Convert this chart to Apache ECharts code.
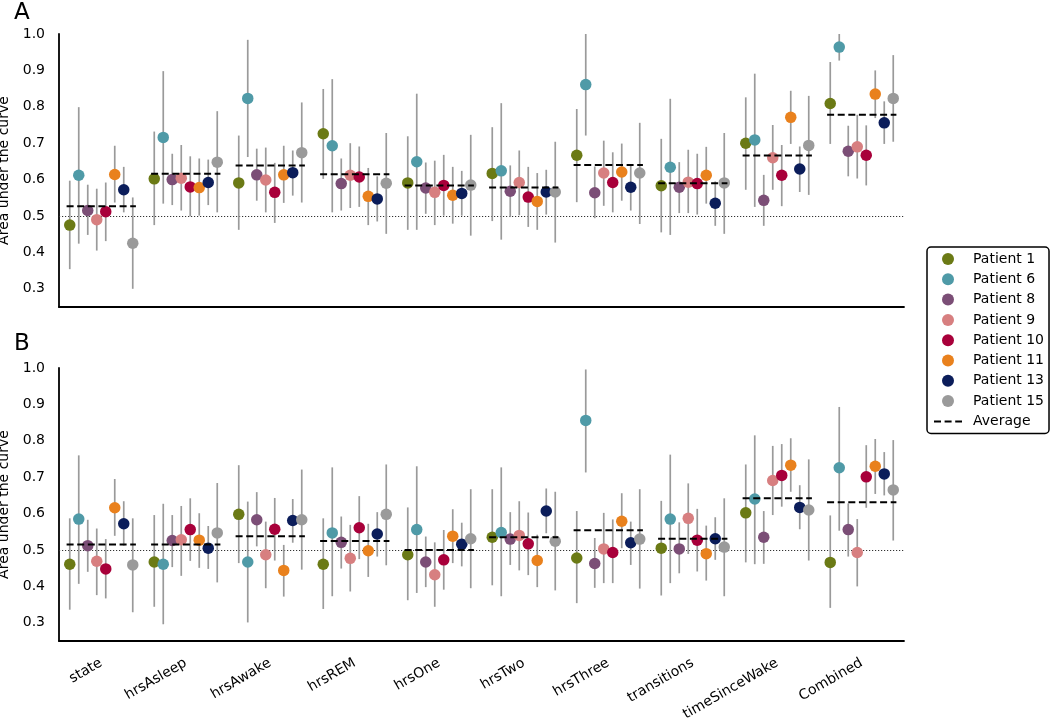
<!DOCTYPE html>
<html>
<head>
<meta charset="utf-8">
<title>Area under the curve per feature</title>
<script src="https://cdn.jsdelivr.net/npm/echarts@6/dist/echarts.min.js"></script>
<style>
  html, body { margin: 0; padding: 0; background: #fff; }
  #chart { width: 1050px; height: 718px; }
</style>
</head>
<body>
<div id="chart"></div>
<script>
var features = ['state', 'hrsAsleep', 'hrsAwake', 'hrsREM', 'hrsOne', 'hrsTwo',
  'hrsThree', 'transitions', 'timeSinceWake', 'Combined'];
var patients = ['Patient 1', 'Patient 6', 'Patient 8', 'Patient 9',
  'Patient 10', 'Patient 11', 'Patient 13', 'Patient 15'];
var patientColors = ['#6b7a15', '#4f9aa7', '#7b4e76', '#d77f80',
  '#a8003a', '#e9811d', '#0b1d5a', '#9a9a9a'];
var yTickLabels = ['0.3', '0.4', '0.5', '0.6', '0.7', '0.8', '0.9', '1.0'];
var chanceLevel = 0.5;

// panel A: one row per patient, one column per feature
var aucA = [
  [0.475, 0.602, 0.591, 0.726, 0.591, 0.617, 0.667, 0.583, 0.700, 0.809],
  [0.612, 0.716, 0.823, 0.693, 0.649, 0.624, 0.861, 0.634, 0.709, 0.964],
  [0.515, 0.600, 0.613, 0.589, 0.577, 0.568, 0.564, 0.579, 0.543, 0.678],
  [0.490, 0.604, 0.599, 0.612, 0.565, 0.592, 0.618, 0.593, 0.660, 0.690],
  [0.512, 0.580, 0.565, 0.607, 0.584, 0.552, 0.592, 0.589, 0.612, 0.667],
  [0.614, 0.578, 0.613, 0.554, 0.557, 0.540, 0.621, 0.612, 0.771, 0.835],
  [0.572, 0.592, 0.619, 0.547, 0.562, 0.566, 0.579, 0.535, 0.629, 0.756],
  [0.425, 0.648, 0.674, 0.590, 0.585, 0.566, 0.618, 0.591, 0.694, 0.823]
];
var lowA = [
  [0.354, 0.475, 0.462, 0.602, 0.462, 0.486, 0.538, 0.455, 0.572, 0.698],
  [0.424, 0.534, 0.662, 0.510, 0.462, 0.435, 0.721, 0.448, 0.525, 0.927],
  [0.448, 0.530, 0.542, 0.515, 0.506, 0.497, 0.494, 0.508, 0.473, 0.609],
  [0.405, 0.515, 0.510, 0.522, 0.475, 0.502, 0.528, 0.508, 0.572, 0.603],
  [0.431, 0.499, 0.481, 0.525, 0.501, 0.470, 0.510, 0.504, 0.527, 0.584],
  [0.537, 0.501, 0.536, 0.475, 0.479, 0.462, 0.542, 0.534, 0.698, 0.769],
  [0.510, 0.530, 0.556, 0.485, 0.501, 0.504, 0.515, 0.473, 0.566, 0.698],
  [0.300, 0.510, 0.537, 0.451, 0.446, 0.427, 0.478, 0.451, 0.558, 0.704]
];
var highA = [
  [0.597, 0.732, 0.721, 0.849, 0.719, 0.744, 0.794, 0.712, 0.826, 0.923],
  [0.799, 0.898, 0.984, 0.876, 0.836, 0.810, 1.000, 0.822, 0.891, 1.000],
  [0.586, 0.671, 0.685, 0.658, 0.647, 0.639, 0.636, 0.648, 0.613, 0.748],
  [0.575, 0.695, 0.688, 0.700, 0.652, 0.680, 0.707, 0.682, 0.750, 0.778],
  [0.592, 0.664, 0.646, 0.691, 0.668, 0.635, 0.675, 0.671, 0.695, 0.749],
  [0.693, 0.658, 0.693, 0.632, 0.635, 0.618, 0.699, 0.690, 0.844, 0.900],
  [0.635, 0.655, 0.680, 0.609, 0.624, 0.627, 0.639, 0.595, 0.691, 0.815],
  [0.551, 0.788, 0.812, 0.728, 0.723, 0.704, 0.756, 0.728, 0.830, 0.942]
];
var avgA = [0.527, 0.616, 0.639, 0.615, 0.584, 0.578, 0.640, 0.590, 0.666, 0.778];

// panel B
var aucB = [
  [0.461, 0.467, 0.598, 0.461, 0.487, 0.535, 0.478, 0.505, 0.602, 0.466],
  [0.585, 0.461, 0.467, 0.547, 0.556, 0.548, 0.856, 0.585, 0.640, 0.726],
  [0.512, 0.526, 0.583, 0.521, 0.467, 0.530, 0.463, 0.503, 0.535, 0.556],
  [0.469, 0.528, 0.487, 0.477, 0.432, 0.540, 0.503, 0.587, 0.691, 0.493],
  [0.448, 0.556, 0.557, 0.561, 0.473, 0.517, 0.493, 0.527, 0.705, 0.701],
  [0.616, 0.527, 0.444, 0.498, 0.538, 0.471, 0.579, 0.490, 0.733, 0.730],
  [0.572, 0.505, 0.581, 0.544, 0.516, 0.607, 0.520, 0.531, 0.617, 0.709],
  [0.459, 0.547, 0.583, 0.598, 0.531, 0.524, 0.530, 0.508, 0.610, 0.665]
];
var lowB = [
  [0.336, 0.344, 0.464, 0.338, 0.362, 0.403, 0.354, 0.375, 0.466, 0.341],
  [0.407, 0.296, 0.301, 0.373, 0.382, 0.373, 0.713, 0.409, 0.461, 0.553],
  [0.440, 0.453, 0.510, 0.449, 0.398, 0.459, 0.396, 0.436, 0.462, 0.482],
  [0.376, 0.429, 0.395, 0.386, 0.344, 0.444, 0.409, 0.489, 0.596, 0.400],
  [0.367, 0.470, 0.471, 0.475, 0.391, 0.431, 0.409, 0.441, 0.619, 0.616],
  [0.539, 0.451, 0.372, 0.426, 0.464, 0.398, 0.505, 0.416, 0.660, 0.654],
  [0.512, 0.448, 0.520, 0.482, 0.455, 0.546, 0.459, 0.473, 0.557, 0.650],
  [0.329, 0.411, 0.446, 0.458, 0.395, 0.389, 0.394, 0.373, 0.471, 0.526]
];
var highB = [
  [0.587, 0.596, 0.733, 0.587, 0.617, 0.667, 0.607, 0.635, 0.735, 0.595],
  [0.760, 0.627, 0.633, 0.727, 0.730, 0.727, 0.996, 0.762, 0.815, 0.893],
  [0.583, 0.596, 0.659, 0.592, 0.537, 0.604, 0.533, 0.576, 0.607, 0.628],
  [0.559, 0.621, 0.578, 0.569, 0.521, 0.634, 0.602, 0.683, 0.786, 0.585],
  [0.530, 0.642, 0.643, 0.648, 0.555, 0.603, 0.584, 0.613, 0.791, 0.788],
  [0.695, 0.601, 0.514, 0.572, 0.612, 0.542, 0.656, 0.567, 0.807, 0.805],
  [0.634, 0.566, 0.640, 0.604, 0.575, 0.669, 0.578, 0.590, 0.678, 0.769],
  [0.587, 0.684, 0.721, 0.735, 0.667, 0.660, 0.667, 0.642, 0.749, 0.802]
];
var avgB = [0.515, 0.515, 0.538, 0.525, 0.500, 0.535, 0.554, 0.531, 0.642, 0.631];

(function () {
  var FONT = 'DejaVu Sans';
  var SPREAD = 0.1065;   // horizontal offset between patients inside a feature group
  var AVG_HALF = 0.41;   // half width of the dashed average segment

  function xPos(i, j) { return i + (j - (patients.length - 1) / 2) * SPREAD; }

  function yAxis(grid) {
    return {
      type: 'value', gridIndex: grid, min: 0.25, max: 1.0, interval: 0.05,
      name: 'Area under the curve', nameLocation: 'middle', nameGap: 43,
      nameTextStyle: { fontFamily: FONT, fontSize: 14, color: '#000' },
      axisLine: { show: true, onZero: false, lineStyle: { color: '#000', width: 1.8 } },
      axisTick: { show: false },
      splitLine: { show: false },
      axisLabel: {
        margin: 14, fontFamily: FONT, fontSize: 14, color: '#000',
        formatter: function (v) {
          var s = v.toFixed(1);
          if (Math.abs(v - parseFloat(s)) > 1e-6) return '';
          return yTickLabels.indexOf(s) >= 0 ? s : '';
        }
      }
    };
  }

  function xAxis(grid, withLabels) {
    return {
      type: 'value', gridIndex: grid, min: -0.5, max: features.length - 0.5, interval: 0.5,
      axisLine: { show: true, onZero: false, lineStyle: { color: '#000', width: 1.8 } },
      axisTick: { show: false },
      splitLine: { show: false },
      axisLabel: {
        show: withLabels, rotate: 30, margin: 21, fontFamily: FONT, fontSize: 14, color: '#000',
        formatter: function (v) {
          var k = Math.round(v);
          if (Math.abs(v - k) > 1e-6) return '';
          return features[k] || '';
        }
      }
    };
  }

  function panelSeries(grid, auc, low, high, avg) {
    var out = [];
    var bars = [];
    for (var j = 0; j < patients.length; j++) {
      for (var i = 0; i < features.length; i++) {
        bars.push([xPos(i, j), low[j][i], high[j][i]]);
      }
    }
    out.push({
      type: 'custom', name: 'errors', xAxisIndex: grid, yAxisIndex: grid, z: 1, silent: true,
      data: bars,
      encode: { x: 0, y: [1, 2] },
      renderItem: function (params, api) {
        var a = api.coord([api.value(0), api.value(1)]);
        var b = api.coord([api.value(0), api.value(2)]);
        return {
          type: 'line',
          shape: { x1: a[0], y1: a[1], x2: b[0], y2: b[1] },
          style: { stroke: '#9a9a9a', lineWidth: 1.7 }
        };
      },
      markLine: {
        silent: true, symbol: 'none', z: 1,
        label: { show: false },
        lineStyle: { color: '#333', width: 1, type: [1.2, 1.8] },
        data: [{ yAxis: chanceLevel }]
      }
    });
    patients.forEach(function (name, j) {
      out.push({
        type: 'scatter', name: name, xAxisIndex: grid, yAxisIndex: grid, z: 3,
        symbol: 'circle', symbolSize: 11.5,
        itemStyle: { color: patientColors[j], opacity: 1 },
        data: auc[j].map(function (v, i) { return [xPos(i, j), v]; })
      });
    });
    avg.forEach(function (v, i) {
      out.push({
        type: 'line', name: 'Average', xAxisIndex: grid, yAxisIndex: grid, z: 4,
        symbol: 'none', silent: true,
        itemStyle: { color: '#000' },
        lineStyle: { color: '#000', width: 2, type: [7, 3.6] },
        data: [[i - AVG_HALF, v], [i + AVG_HALF, v]]
      });
    });
    return out;
  }

  var chart = echarts.init(document.getElementById('chart'), null, { renderer: 'canvas' });
  var legendData = patients.map(function (p) { return { name: p, icon: 'circle' }; });
  legendData.push({ name: 'Average', itemStyle: { opacity: 0 } });

  var titleStyle = { fontFamily: FONT, fontSize: 23, fontWeight: 'normal', color: '#000' };
  chart.setOption({
    animation: false,
    backgroundColor: '#fff',
    textStyle: { fontFamily: FONT },
    title: [
      { text: 'A', left: 14, top: 2, padding: 0, textStyle: titleStyle },
      { text: 'B', left: 14, top: 333, padding: 0, textStyle: titleStyle }
    ],
    grid: [
      { left: 59, top: 34, width: 845, height: 273, outerBoundsMode: 'none' },
      { left: 59, top: 368, width: 845, height: 273, outerBoundsMode: 'none' }
    ],
    xAxis: [xAxis(0, false), xAxis(1, true)],
    yAxis: [yAxis(0), yAxis(1)],
    legend: {
      orient: 'vertical', left: 927, top: 247,
      padding: [5, 5, 5, 6],
      itemWidth: 28, itemHeight: 12, itemGap: 6.3,
      borderColor: '#000', borderWidth: 1.5, borderRadius: 4,
      backgroundColor: '#fff',
      textStyle: { fontFamily: FONT, fontSize: 14, color: '#000', lineHeight: 14, padding: [0, 0, 0, 6] },
      data: legendData
    },
    series: panelSeries(0, aucA, lowA, highA, avgA).concat(panelSeries(1, aucB, lowB, highB, avgB))
  });
})();
</script>
</body>
</html>
